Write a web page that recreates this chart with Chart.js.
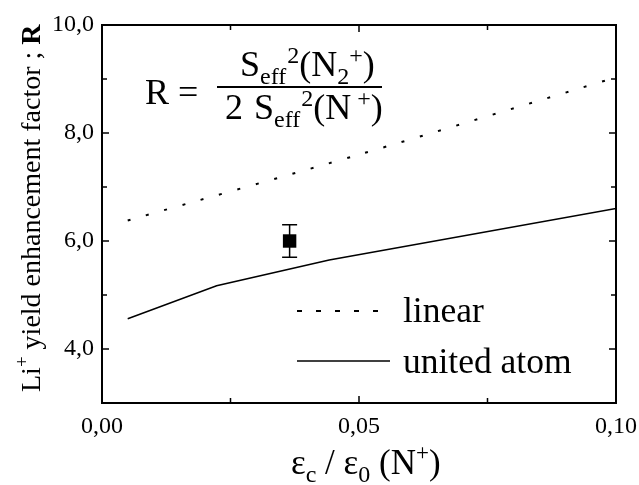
<!DOCTYPE html>
<html>
<head>
<meta charset="utf-8">
<script src="https://cdn.jsdelivr.net/npm/chart.js@4.4.0/dist/chart.umd.min.js"></script>
<style>
  html, body { margin: 0; padding: 0; background: #fff; }
</style>
</head>
<body>
<canvas id="chart" width="639" height="485"></canvas>
<script>
// values
const lineX = [0.005, 0.05, 0.1];
const linearR = [6.38, 7.6, 9.03];
const unitedX = [0.005, 0.0223, 0.0442, 0.1];
const unitedR = [4.56, 5.17, 5.65, 6.6];
const measX = [0.0365];
const measR = [6.0];
const measErr = [0.3];
const seriesNames = ['linear', 'united atom'];

const SERIF = '"Liberation Serif", "DejaVu Serif", serif';

function pts(xs, ys) {
  return xs.map((x, i) => ({ x: x, y: ys[i] }));
}

// draws a run of text pieces: [text, size, dy, bold]
function rich(ctx, x, y, parts) {
  parts.forEach(p => {
    ctx.font = (p[3] ? 'bold ' : '') + p[1] + 'px ' + SERIF;
    ctx.fillText(p[0], x, y + (p[2] || 0));
    x += ctx.measureText(p[0]).width;
  });
  return x;
}

const decor = {
  id: 'decor',
  afterDatasetsDraw(chart) {
    const ctx = chart.ctx;
    const a = chart.chartArea;
    const xs = chart.scales.x;
    const ys = chart.scales.y;
    ctx.save();
    ctx.strokeStyle = '#000';
    ctx.fillStyle = '#000';

    // error bars
    ctx.lineWidth = 1.5;
    measX.forEach((v, i) => {
      const px = xs.getPixelForValue(v);
      const top = ys.getPixelForValue(measR[i] + measErr[i]);
      const bot = ys.getPixelForValue(measR[i] - measErr[i]);
      ctx.beginPath();
      ctx.moveTo(px, top); ctx.lineTo(px, bot);
      ctx.moveTo(px - 7.5, top); ctx.lineTo(px + 7.5, top);
      ctx.moveTo(px - 7.5, bot); ctx.lineTo(px + 7.5, bot);
      ctx.stroke();
    });

    // frame
    ctx.lineWidth = 2;
    ctx.strokeRect(a.left, a.top, a.right - a.left, a.bottom - a.top);

    // inward ticks on all four sides
    ctx.lineWidth = 1.5;
    ys.ticks.forEach(t => {
      if (t.value <= ys.min || t.value >= ys.max) return;
      const py = ys.getPixelForValue(t.value);
      const len = t.value % 2 === 0 ? 7 : 5;
      ctx.beginPath();
      ctx.moveTo(a.left, py); ctx.lineTo(a.left + len, py);
      ctx.moveTo(a.right, py); ctx.lineTo(a.right - len, py);
      ctx.stroke();
    });
    xs.ticks.forEach(t => {
      if (t.value <= xs.min || t.value >= xs.max) return;
      const px = xs.getPixelForValue(t.value);
      const len = Math.round(t.value * 1000) % 50 === 0 ? 7 : 5;
      ctx.beginPath();
      ctx.moveTo(px, a.bottom); ctx.lineTo(px, a.bottom - len);
      ctx.moveTo(px, a.top); ctx.lineTo(px, a.top + len);
      ctx.stroke();
    });

    // formula
    ctx.textBaseline = 'alphabetic';
    rich(ctx, 145, 104, [['R =', 36]]);
    let e = rich(ctx, 240, 76, [['S', 36], ['eff', 24, 8]]);
    rich(ctx, e + 1, 76, [['2', 24, -13], ['(N', 36], ['2', 24, 8], ['+', 24, -13], [')', 36]]);
    ctx.lineWidth = 2;
    ctx.beginPath();
    ctx.moveTo(217, 87); ctx.lineTo(382, 87);
    ctx.stroke();
    rich(ctx, 225, 119, [['2', 36]]);
    e = rich(ctx, 254, 119, [['S', 36], ['eff', 24, 8]]);
    rich(ctx, e + 1, 119, [['2', 24, -13], ['(N', 36], [' +', 24, -13], [')', 36]]);

    // legend
    const ds = chart.data.datasets;
    [[311, 297, 378, 322, [5, 14]], [361, 297, 390, 373, []]].forEach((r, i) => {
      ctx.lineWidth = ds[i].borderWidth;
      ctx.setLineDash(r[4]);
      ctx.beginPath();
      ctx.moveTo(r[1], r[0]); ctx.lineTo(r[2], r[0]);
      ctx.stroke();
      ctx.setLineDash([]);
      rich(ctx, 403, r[3], [[seriesNames[i], 35.5]]);
    });

    // axis titles
    rich(ctx, 291, 474, [['\u03b5', 35], ['c', 24, 8], [' / \u03b5', 35], ['0', 24, 8], [' (N', 35], ['+', 23, -14], [')', 35]]);
    ctx.translate(40, 392);
    ctx.rotate(-Math.PI / 2);
    rich(ctx, 0, 0, [['Li', 28], ['+', 19, -12], [' yield enhancement factor ; ', 28], ['R', 28, 0, true]]);
    ctx.restore();
  }
};

new Chart(document.getElementById('chart'), {
  type: 'scatter',
  data: {
    datasets: [
      {
        label: seriesNames[0],
        data: pts(lineX, linearR),
        showLine: true,
        borderColor: '#000',
        borderWidth: 2,
        borderDash: [3, 16],
        pointRadius: 0,
        tension: 0.3
      },
      {
        label: seriesNames[1],
        data: pts(unitedX, unitedR),
        showLine: true,
        borderColor: '#000',
        borderWidth: 1.5,
        pointRadius: 0
      },
      {
        label: 'measured',
        data: pts(measX, measR),
        pointStyle: 'rect',
        pointRadius: 9.5,
        backgroundColor: '#000',
        borderColor: '#000',
        borderWidth: 0
      }
    ]
  },
  options: {
    responsive: false,
    animation: false,
    devicePixelRatio: 1,
    layout: { padding: { top: 25, right: 23, left: 0, bottom: 0 } },
    plugins: { legend: { display: false }, tooltip: { enabled: false } },
    scales: {
      x: {
        type: 'linear',
        min: 0,
        max: 0.1,
        afterFit(s) { s.height = 82; s.paddingLeft = 0; s.paddingRight = 0; },
        grid: { display: false, drawTicks: false },
        border: { display: false },
        ticks: {
          stepSize: 0.025,
          padding: 9,
          color: '#000',
          font: { family: SERIF, size: 24 },
          maxRotation: 0,
          autoSkip: false,
          callback: v => Math.round(v * 1000) % 50 === 0 ? v.toFixed(2).replace('.', ',') : ''
        }
      },
      y: {
        min: 3,
        max: 10,
        afterFit(s) { s.width = 102; s.paddingTop = 0; s.paddingBottom = 0; },
        grid: { display: false, drawTicks: false },
        border: { display: false },
        ticks: {
          stepSize: 1,
          padding: 8,
          color: '#000',
          font: { family: SERIF, size: 24 },
          autoSkip: false,
          callback: v => v % 2 === 0 ? v.toFixed(1).replace('.', ',') : ''
        }
      }
    }
  },
  plugins: [decor]
});
</script>
</body>
</html>
